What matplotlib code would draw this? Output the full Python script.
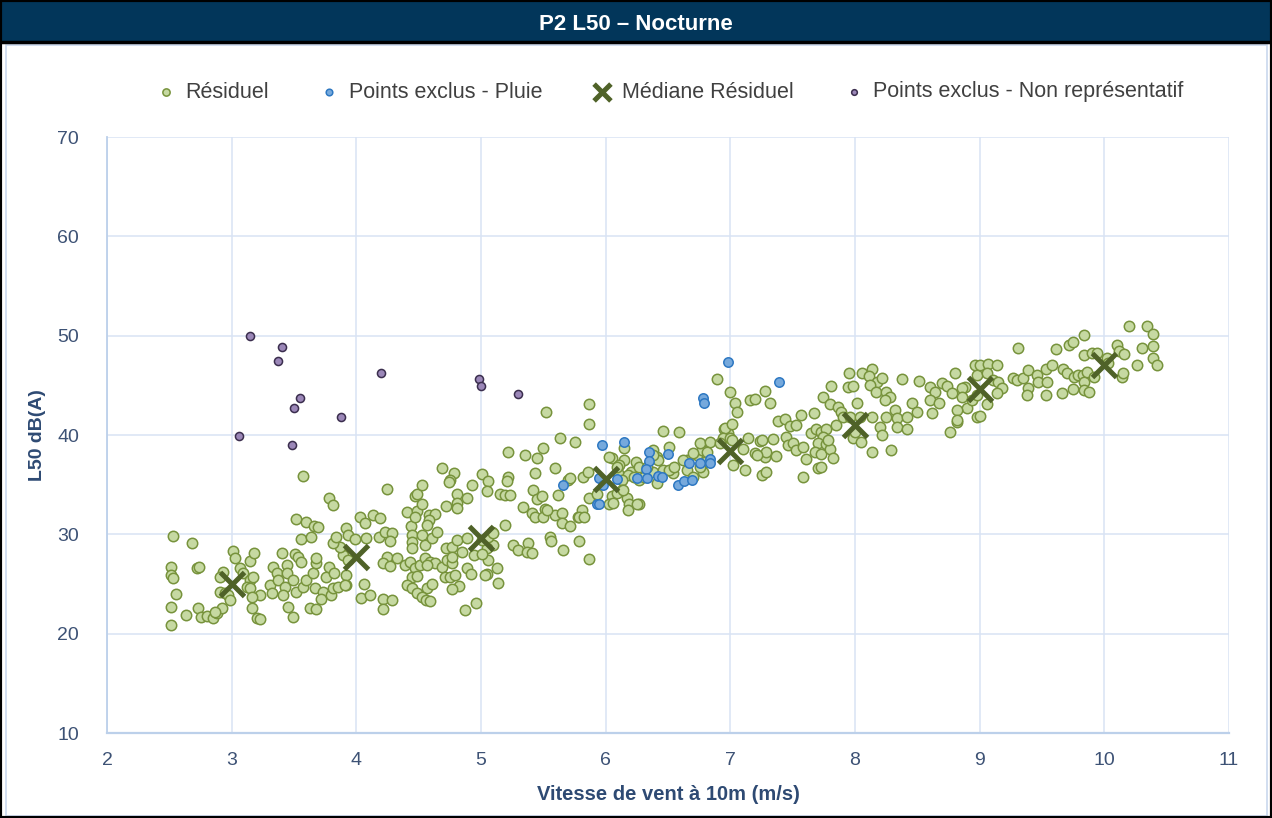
import matplotlib.pyplot as plt
from matplotlib.patches import Rectangle

plt.rcParams['font.family'] = ['Liberation Sans', 'DejaVu Sans']

# Résiduel (vitesse m/s, L50 dB(A))
residuel = [
    (2.51, 26.7), (2.51, 25.9), (2.53, 25.6), (2.51, 22.7), (2.51, 20.9), (2.53, 29.8), (2.55, 24.0),
    (2.63, 21.9), (2.68, 29.1), (2.72, 26.6), (2.74, 26.7), (2.73, 22.6), (2.75, 21.7), (2.80, 21.8),
    (2.85, 21.6), (2.88, 22.1), (2.92, 22.6), (2.87, 22.2), (2.93, 26.2), (2.91, 25.7), (2.91, 24.2),
    (2.95, 24.1), (2.97, 23.9), (2.99, 23.4),
    (3.01, 28.3), (3.03, 27.6), (3.07, 26.6), (3.09, 26.1), (3.15, 27.3), (3.18, 28.1), (3.15, 25.4),
    (3.17, 25.7), (3.12, 24.7), (3.15, 24.6), (3.23, 23.9), (3.16, 23.7), (3.16, 22.6), (3.20, 21.6),
    (3.23, 21.5), (3.33, 26.7), (3.36, 26.1), (3.44, 26.9), (3.44, 26.1), (3.31, 24.9), (3.32, 24.1),
    (3.37, 25.4), (3.43, 24.7), (3.41, 23.9), (3.49, 25.4), (3.40, 28.1), (3.45, 22.7), (3.49, 21.7),
    (3.51, 28.0), (3.53, 27.7), (3.56, 27.2), (3.52, 24.2), (3.57, 24.7), (3.56, 29.5), (3.64, 29.7),
    (3.52, 31.5), (3.60, 31.2), (3.66, 30.8), (3.69, 30.7), (3.57, 35.9), (3.78, 33.7), (3.81, 33.0),
    (3.60, 25.4), (3.65, 26.1), (3.68, 27.1), (3.68, 27.6), (3.67, 24.6), (3.73, 24.2), (3.72, 23.5),
    (3.80, 23.9), (3.81, 24.6), (3.76, 25.7), (3.78, 26.7), (3.82, 26.1), (3.85, 24.7), (3.92, 24.9),
    (3.89, 27.9), (3.87, 28.7), (3.81, 29.1), (3.93, 27.4), (3.92, 25.9), (3.84, 29.7), (3.92, 30.6),
    (3.63, 22.6), (3.68, 22.5), (3.93, 29.9), (3.99, 29.5), (3.91, 24.9),
    (4.03, 31.7), (4.07, 31.1), (4.13, 31.9), (4.19, 31.6), (4.08, 29.6), (4.18, 29.7), (4.23, 30.2),
    (4.29, 30.1), (4.27, 29.3), (4.25, 34.6), (4.25, 27.7), (4.21, 27.1), (4.27, 26.8), (4.33, 27.6),
    (4.39, 26.9), (4.43, 27.2), (4.47, 26.6), (4.06, 25.0), (4.04, 23.6), (4.11, 23.9), (4.21, 23.5),
    (4.21, 22.5), (4.29, 23.4), (4.41, 32.2), (4.44, 30.8), (4.45, 29.9), (4.45, 29.2), (4.45, 28.6),
    (4.45, 25.7), (4.41, 24.9), (4.45, 24.6), (4.49, 24.1), (4.47, 33.9), (4.49, 34.1), (4.49, 32.3),
    (4.47, 31.7),
    (4.53, 35.0), (4.53, 33.1), (4.51, 26.9), (4.55, 27.6), (4.59, 27.2), (4.63, 27.1), (4.57, 26.9),
    (4.53, 29.9), (4.55, 28.9), (4.61, 29.6), (4.58, 31.9), (4.63, 32.0), (4.58, 31.4), (4.57, 30.9),
    (4.65, 30.2), (4.49, 25.8), (4.57, 24.6), (4.61, 25.0), (4.53, 23.7), (4.56, 23.4), (4.59, 23.3),
    (4.69, 36.7), (4.78, 36.2), (4.75, 35.5), (4.74, 35.3), (4.81, 34.1), (4.81, 33.2), (4.81, 32.7),
    (4.89, 33.7), (4.72, 32.9), (4.72, 28.6), (4.77, 28.7), (4.81, 29.4), (4.89, 29.6), (4.85, 28.2),
    (4.94, 27.9), (4.69, 26.7), (4.73, 27.4), (4.77, 27.1), (4.77, 27.7), (4.71, 25.7), (4.75, 25.7),
    (4.79, 25.9), (4.89, 26.6), (4.92, 26.0), (4.82, 24.8), (4.77, 24.5), (4.87, 22.4), (4.96, 23.1),
    (4.93, 35.0),
    (5.01, 36.1), (5.06, 35.4), (5.05, 34.4), (5.22, 35.8), (5.21, 35.4), (5.15, 34.1), (5.19, 34.0),
    (5.23, 34.0), (5.22, 38.3), (5.35, 38.0), (5.43, 36.2), (5.42, 34.5), (5.45, 33.6), (5.34, 32.8),
    (5.41, 32.1), (5.43, 31.7), (5.09, 30.2), (5.10, 28.9), (5.05, 28.6), (5.06, 27.4), (5.13, 26.6),
    (5.14, 25.1), (5.05, 26.0), (5.19, 30.9), (5.26, 28.9), (5.30, 28.4), (5.38, 29.1), (5.37, 28.2),
    (5.41, 28.1), (5.01, 29.4), (5.06, 29.7), (5.10, 30.1), (5.01, 28.0), (5.03, 25.9), (5.45, 37.7),
    (5.49, 33.9), (5.50, 38.7),
    (5.52, 42.3), (5.87, 43.1), (5.87, 41.1), (5.63, 39.7), (5.75, 39.3), (5.59, 36.7), (5.70, 35.5),
    (5.71, 35.7), (5.82, 35.8), (5.86, 36.3), (5.62, 34.0), (5.87, 33.7), (5.93, 34.1), (5.51, 32.6),
    (5.59, 31.9), (5.65, 32.1), (5.50, 31.7), (5.65, 31.1), (5.71, 30.8), (5.78, 31.7), (5.81, 32.5),
    (5.79, 31.7), (5.55, 29.7), (5.56, 29.3), (5.66, 28.4), (5.79, 29.3), (5.87, 27.5), (5.53, 32.4),
    (5.83, 31.7),
    (6.05, 37.7), (6.15, 38.7), (6.15, 37.5), (6.11, 37.0), (6.24, 37.3), (6.10, 36.2), (6.20, 36.3),
    (6.18, 36.0), (6.13, 35.5), (6.05, 33.9), (6.03, 33.1), (6.13, 34.5), (6.17, 33.7), (6.19, 33.1),
    (6.27, 33.1), (6.18, 32.4), (6.27, 35.5), (6.31, 35.8), (6.41, 35.2), (6.38, 36.3), (6.46, 40.4),
    (6.03, 37.8), (6.09, 36.8), (6.23, 35.8), (6.27, 36.8), (6.33, 36.8), (6.38, 38.5), (6.41, 37.8),
    (6.46, 36.5), (6.51, 38.8), (6.54, 36.2), (6.09, 34.2), (6.14, 34.5), (6.25, 33.1), (6.06, 33.2),
    (6.59, 40.3), (6.95, 40.6), (6.98, 40.2), (6.51, 36.5), (6.55, 36.8), (6.65, 36.5), (6.70, 35.8),
    (6.78, 36.3), (6.65, 37.5), (6.73, 38.0), (6.77, 38.5), (6.76, 39.2), (6.84, 39.3), (6.80, 37.3),
    (6.89, 45.6), (6.96, 40.7), (6.94, 39.7), (6.42, 37.5), (6.62, 37.5), (6.70, 38.2), (6.81, 38.3),
    (6.76, 36.8), (6.92, 39.2), (6.38, 38.0),
    (7.00, 44.3), (7.04, 43.2), (7.05, 42.3), (7.16, 43.5), (7.20, 43.6), (7.28, 44.4), (7.32, 43.2),
    (7.01, 41.1), (7.00, 39.7), (7.14, 39.7), (7.24, 39.4), (7.34, 39.6), (7.37, 37.9), (7.20, 38.2),
    (7.28, 37.8), (7.29, 38.3), (7.10, 38.6), (7.12, 36.5), (7.25, 36.0), (7.29, 36.3), (7.02, 37.0),
    (7.38, 41.4), (7.44, 41.6), (7.48, 40.9), (7.45, 39.8), (7.46, 39.0), (7.01, 39.5), (7.25, 39.5),
    (7.21, 38.0),
    (7.53, 41.0), (7.57, 42.0), (7.67, 42.2), (7.50, 39.2), (7.53, 38.5), (7.58, 38.8), (7.61, 37.6),
    (7.58, 35.8), (7.65, 40.2), (7.69, 40.6), (7.73, 40.3), (7.77, 40.6), (7.74, 39.8), (7.70, 39.2),
    (7.77, 39.1), (7.68, 38.3), (7.73, 38.1), (7.80, 38.6), (7.82, 37.7), (7.70, 36.7), (7.73, 36.8),
    (7.74, 43.8), (7.81, 44.9), (7.80, 43.1), (7.86, 42.8), (7.89, 42.3), (7.95, 46.2), (7.94, 44.8),
    (7.98, 44.9), (7.85, 41.0), (7.90, 41.8), (7.96, 41.8), (7.98, 39.7), (7.78, 39.5),
    (8.02, 43.2), (8.04, 41.8), (8.00, 40.3), (8.05, 39.3), (8.14, 38.3), (8.29, 38.5), (8.06, 46.2),
    (8.14, 46.6), (8.11, 45.9), (8.18, 45.3), (8.22, 45.7), (8.12, 45.0), (8.17, 44.3), (8.25, 44.3),
    (8.28, 43.8), (8.24, 43.5), (8.14, 41.8), (8.20, 40.8), (8.25, 41.8), (8.32, 42.5), (8.34, 41.7),
    (8.42, 41.8), (8.34, 40.8), (8.42, 40.6), (8.22, 40.0), (8.38, 45.6), (8.46, 43.2), (8.50, 42.3),
    (8.51, 45.4), (8.60, 44.8), (8.64, 44.3), (8.70, 45.2), (8.74, 44.9), (8.60, 43.5), (8.67, 43.2),
    (8.62, 42.2), (8.76, 40.3), (8.82, 41.3), (8.80, 46.2), (8.88, 44.8), (8.90, 42.7), (8.96, 47.0),
    (8.98, 46.0), (8.98, 41.8), (8.86, 44.7), (8.78, 44.2), (8.86, 43.8), (8.94, 43.5), (8.98, 44.0),
    (8.82, 42.5), (8.82, 41.5),
    (9.00, 47.0), (9.07, 47.1), (9.14, 47.0), (9.06, 46.2), (9.11, 45.5), (9.15, 45.3), (9.18, 44.7),
    (9.14, 44.2), (9.06, 43.1), (9.00, 41.9), (9.27, 45.7), (9.30, 45.5), (9.35, 45.7), (9.39, 46.5),
    (9.39, 44.7), (9.38, 44.0), (9.46, 46.0), (9.47, 45.3), (9.31, 48.8),
    (9.53, 46.6), (9.54, 45.3), (9.58, 47.0), (9.53, 44.0), (9.61, 48.7), (9.67, 46.6), (9.70, 46.2),
    (9.66, 44.2), (9.75, 44.6), (9.72, 49.1), (9.75, 49.4), (9.84, 50.1), (9.76, 45.8), (9.79, 46.0),
    (9.83, 46.0), (9.84, 45.3), (9.84, 48.1), (9.90, 48.3), (9.94, 48.3), (9.86, 46.3), (9.84, 44.5),
    (9.88, 44.3), (9.92, 45.8), (10.02, 47.8), (10.03, 47.2), (10.10, 49.1), (10.12, 48.5), (10.16, 48.2),
    (10.14, 45.8), (10.15, 46.2), (10.26, 47.0), (10.30, 48.8), (10.20, 51.0), (10.34, 51.0),
    (10.39, 50.2), (10.39, 49.0), (10.39, 47.8), (10.42, 47.0),
]

pluie = [
    (6.78, 43.7), (6.79, 43.2), (5.97, 39.0), (6.15, 39.3), (6.35, 38.3), (6.35, 37.4), (6.50, 38.1),
    (5.66, 35.0), (5.95, 35.7), (5.98, 35.0), (6.09, 35.6), (5.93, 33.1), (5.95, 33.1), (6.25, 35.7),
    (6.32, 36.6), (6.33, 35.7), (6.42, 35.9), (6.45, 35.8), (6.58, 35.0), (6.63, 35.4), (6.69, 35.5),
    (6.67, 37.2), (6.76, 37.2), (6.84, 37.6), (6.84, 37.2), (6.98, 47.3), (7.39, 45.3),
]

non_repr = [
    (3.06, 39.9), (3.15, 50.0), (3.37, 47.5), (3.40, 48.9), (3.48, 39.0), (3.50, 42.7),
    (3.55, 43.7), (3.88, 41.8), (4.20, 46.2), (4.98, 45.6), (5.00, 44.9), (5.30, 44.1),
]

med_x = [3, 4, 5, 6, 7, 8, 9, 10]
med_y = [25.0, 27.7, 29.6, 35.6, 38.4, 41.0, 44.6, 47.0]

W, H = 1272, 818
fig = plt.figure(figsize=(W / 100, H / 100), dpi=100)

# bandeau titre + cadres
fig.patches.append(Rectangle((0, 1 - 42 / H), 1, 42 / H, transform=fig.transFigure,
                             facecolor='#02365A', edgecolor='none', zorder=0))
fig.patches.append(Rectangle((6 / W, 2 / H), 1261 / W, 771 / H, transform=fig.transFigure,
                             fill=False, edgecolor='#C9D8EE', lw=1.2, zorder=1))
fig.add_artist(plt.Line2D([0, 1], [1 - 42 / H, 1 - 42 / H], transform=fig.transFigure,
                          color='black', lw=2.5))
fig.patches.append(Rectangle((0, 0), 1, 1, transform=fig.transFigure,
                             fill=False, edgecolor='black', lw=3, zorder=5))
fig.text(0.5, 1 - 24 / H, 'P2 L50 – Nocturne', color='white', fontsize=16,
         fontweight='bold', ha='center', va='center')

ax = fig.add_axes([107 / W, 1 - 733 / H, 1122 / W, 596 / H])

rx, ry = zip(*residuel)
px_, py_ = zip(*pluie)
nx, ny = zip(*non_repr)

h1 = ax.scatter(rx, ry, s=56, facecolor='#C6D9A2', edgecolor='#77933C', linewidths=1.1,
                zorder=3, label='Résiduel')
h2 = ax.scatter(px_, py_, s=46, facecolor='#76A9DC', edgecolor='#2E78C2', linewidths=1.1,
                zorder=4, label='Points exclus - Pluie')
h4 = ax.scatter(nx, ny, s=34, facecolor='#9B87B8', edgecolor='#3B2E4E', linewidths=1.1,
                zorder=4, label='Points exclus - Non représentatif')
h3 = ax.scatter(med_x, med_y, s=300, marker='x', color='#4F6228', linewidths=3.6,
                zorder=6, label='Médiane Résiduel')

ax.set_xlim(2, 11)
ax.set_ylim(10, 70)
ax.set_xticks(range(2, 12))
ax.set_yticks(range(10, 71, 10))
ax.grid(True, color='#D8E3F4', lw=1.1)
ax.set_axisbelow(True)
for s in ['top', 'right']:
    ax.spines[s].set_visible(False)
ax.spines['left'].set_color('#BCD0EA')
ax.spines['bottom'].set_color('#BCD0EA')
ax.spines['left'].set_linewidth(1.3)
ax.spines['bottom'].set_linewidth(1.6)
ax.tick_params(length=0, labelsize=14, labelcolor='#3D5275', pad=14)
ax.tick_params(axis='y', pad=20)

ax.set_xlabel('Vitesse de vent à 10m (m/s)', fontsize=14.5, fontweight='bold',
              color='#2E4A73', labelpad=11)
ax.set_ylabel('L50 dB(A)', fontsize=14, fontweight='bold', color='#2E4A73', labelpad=8)

fig.legend(handles=[h1, h2, h3, h4], loc='center', bbox_to_anchor=(0.527, 1 - 92 / H),
           ncol=4, frameon=False, fontsize=15.5, labelcolor='#404040', markerscale=0.7,
           handlelength=0.8, handletextpad=0.5, columnspacing=2.4)

fig.savefig('out.png', dpi=100)
